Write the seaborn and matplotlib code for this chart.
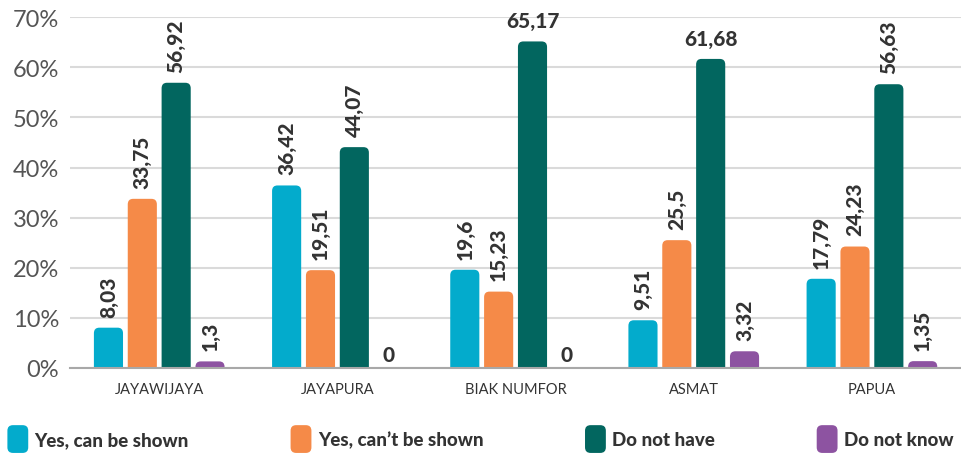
import matplotlib
matplotlib.use("Agg")
import matplotlib.pyplot as plt
from matplotlib.patches import FancyBboxPatch, Patch
from matplotlib.legend_handler import HandlerPatch
import seaborn as sns
import pandas as pd

# Survey results by regency (percent of respondents)
regions = ["JAYAWIJAYA", "JAYAPURA", "BIAK NUMFOR", "ASMAT", "PAPUA"]
answers = ["Yes, can be shown", "Yes, can\u2019t be shown", "Do not have", "Do not know"]
can_show = [8.03, 36.42, 19.6, 9.51, 17.79]
cant_show = [33.75, 19.51, 15.23, 25.5, 24.23]
do_not_have = [56.92, 44.07, 65.17, 61.68, 56.63]
do_not_know = [1.3, 0, 0, 3.32, 1.35]
y_ticks = [0, 10, 20, 30, 40, 50, 60, 70]

colors = ["#03ABCC", "#F58A48", "#02665F", "#8D53A1"]
text_dark = "#333333"

rows = []
for ans, vals in zip(answers, [can_show, cant_show, do_not_have, do_not_know]):
    for reg, v in zip(regions, vals):
        rows.append({"region": reg, "answer": ans, "value": v})
df = pd.DataFrame(rows)

sns.set_theme(style="white")
plt.rcParams["font.family"] = ["Lato", "DejaVu Sans"]

fig = plt.figure(figsize=(9.61, 4.56), dpi=100)
ax = fig.add_axes([0.073, 0.191, 0.927, 0.769])

sns.barplot(data=df, x="region", y="value", hue="answer", order=regions,
            hue_order=answers, palette=colors, width=0.76, gap=0.14,
            legend=False, ax=ax, saturation=1)

ax.set_ylim(0, 70)
ax.set_xlim(-0.5, 4.5)

# swap plain rectangles for bars with rounded top corners
radius_x = 0.03
aspect = 1.1 / radius_x
for container, color, ans in zip(ax.containers, colors, answers):
    vals = df[df["answer"] == ans]["value"].tolist()
    for bar, v in zip(container, vals):
        x, w = bar.get_x(), bar.get_width()
        bar.set_visible(False)
        if v > 0:
            rb = FancyBboxPatch((x, -4), w, v + 4,
                                boxstyle=f"round,pad=0,rounding_size={radius_x}",
                                mutation_aspect=aspect, facecolor=color,
                                edgecolor="none", zorder=3, clip_on=True)
            ax.add_patch(rb)
        label = f"{v:g}".replace(".", ",")
        cx = x + w / 2
        if v > 60:
            ax.annotate(label, (cx, v), xytext=(0, 15),
                        textcoords="offset points", ha="center", va="center",
                        fontsize=15, fontweight="black", color=text_dark, zorder=4)
        elif v == 0:
            ax.annotate(label, (cx, v), xytext=(0, 10),
                        textcoords="offset points", ha="center", va="center",
                        fontsize=15, fontweight="black", color=text_dark, zorder=4)
        else:
            ax.annotate(label, (cx, v), xytext=(0, 8),
                        textcoords="offset points", ha="center", va="bottom",
                        rotation=90, fontsize=15, fontweight="black",
                        color=text_dark, zorder=4)

ax.set_yticks(y_ticks)
ax.set_yticklabels([f"{t}%" for t in y_ticks], fontsize=17, color="#555555")
ax.tick_params(axis="x", labelsize=10.5, colors=text_dark, length=0, pad=10)
ax.tick_params(axis="y", length=0, pad=8)
ax.set_xlabel("")
ax.set_ylabel("")
ax.yaxis.grid(True, color="#DADADA", linewidth=1.5)
ax.set_axisbelow(True)
for s in ["top", "right", "left"]:
    ax.spines[s].set_visible(False)
ax.spines["bottom"].set_color("#A8A8A8")
ax.spines["bottom"].set_linewidth(1.5)
ax.spines["bottom"].set_zorder(5)


def rounded_key(legend, orig_handle, xdescent, ydescent, width, height, fontsize):
    w, h = 15, 20
    return FancyBboxPatch((-xdescent + (width - w) / 2, -ydescent + (height - h) / 2),
                          w, h, boxstyle="round,pad=0,rounding_size=4")


handles = [Patch(facecolor=c, edgecolor="none") for c in colors]
leg = fig.legend(handles, answers, loc="center", ncol=4, mode="expand",
                 bbox_to_anchor=(0.0, 0.0, 1.0, 0.07), borderaxespad=0, frameon=False,
                 handlelength=1.1, handleheight=1.2, handletextpad=0.35,
                 handler_map={Patch: HandlerPatch(patch_func=rounded_key)},
                 prop={"family": ["Lato", "DejaVu Sans"], "weight": "black", "size": 13.5})
for t in leg.get_texts():
    t.set_color(text_dark)

fig.savefig("out.png", dpi=100)
